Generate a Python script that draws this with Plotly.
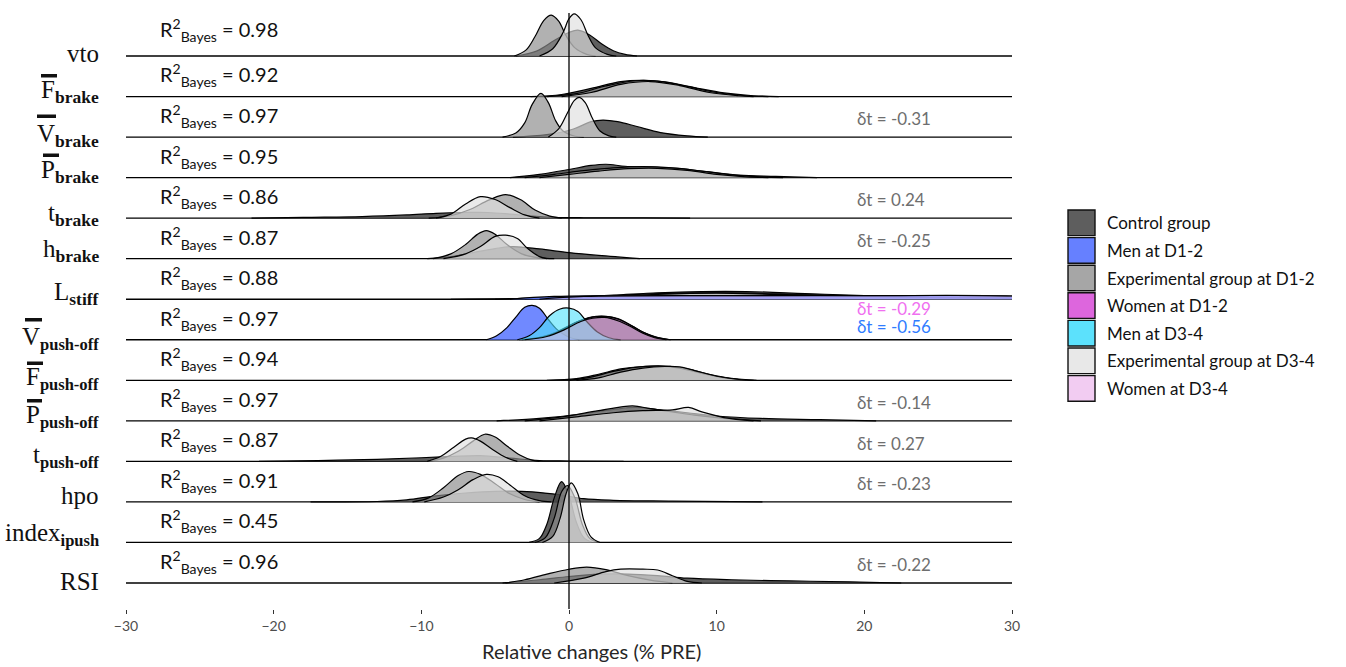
import plotly.graph_objects as go

# ---------------- data ----------------
ROW_NAMES = ["vto", "Fbrake", "Vbrake", "Pbrake", "tbrake", "hbrake", "Lstiff",
             "Vpush", "Fpush", "Ppush", "tpush", "hpo", "index", "RSI"]

SB = '<sub><b>%s</b></sub>'
SBP = '<sub><span style="font-size:16.5px"><b>%s</b></span></sub>'
ROW_LABELS = [
    "vto",
    "F" + SB % "brake",
    "V" + SB % "brake",
    "P" + SB % "brake",
    "t" + SB % "brake",
    "h" + SB % "brake",
    "L" + SB % "stiff",
    "V" + SBP % "push-off",
    "F" + SBP % "push-off",
    "P" + SBP % "push-off",
    "t" + SBP % "push-off",
    "hpo",
    "index" + SBP % "ipush",
    "RSI",
]
# rows whose main letter carries an overline (mean value)
OVERLINED = ["Fbrake", "Vbrake", "Pbrake", "Vpush", "Fpush", "Ppush"]

R2_VALUES = [0.98, 0.92, 0.97, 0.95, 0.86, 0.87, 0.88, 0.97, 0.94, 0.97, 0.87, 0.91, 0.45, 0.96]

DT_ROWS = ["Vbrake", "tbrake", "hbrake", "Ppush", "tpush", "hpo", "RSI"]
DT_VALUES = ["-0.31", "0.24", "-0.25", "-0.14", "0.27", "-0.23", "-0.22"]
DT_VPUSH_WOMEN = "-0.29"
DT_VPUSH_MEN = "-0.56"

GROUPS = ["Control group", "Men at D1-2", "Experimental group at D1-2", "Women at D1-2",
          "Men at D3-4", "Experimental group at D3-4", "Women at D3-4"]

X_TICKS = [-30, -20, -10, 0, 10, 20, 30]

# density knots: (relative change, ridge height) per group and variable
VTO_CTRL = [(-3.6, 0), (-2.2, 0.12), (-1.0, 0.38), (0.0, 0.58), (0.6, 0.64), (1.4, 0.52), (2.2, 0.3), (3.0, 0.13), (3.8, 0.04), (4.6, 0)]
VTO_D12 = [(-3.7, 0), (-2.9, 0.15), (-2.3, 0.48), (-1.7, 0.88), (-1.2, 1.01), (-0.7, 0.86), (-0.2, 0.5), (0.4, 0.2), (1.2, 0.04), (1.8, 0)]
VTO_D34 = [(-2.0, 0), (-1.1, 0.18), (-0.4, 0.58), (0.0, 0.92), (0.35, 1.04), (0.8, 0.9), (1.3, 0.5), (1.8, 0.2), (2.6, 0.04), (3.2, 0)]

FB_CTRL = [(-2.6, 0), (-0.5, 0.05), (1.5, 0.2), (3.5, 0.37), (5.0, 0.4), (6.5, 0.36), (8.5, 0.22), (10.5, 0.09), (12.5, 0.02), (14.2, 0)]
FB_D12 = [(-1.5, 0), (0.5, 0.07), (2.5, 0.26), (4.5, 0.39), (6.0, 0.38), (8.0, 0.25), (10.0, 0.1), (12.0, 0.02), (13.5, 0)]
FB_D34 = [(-0.5, 0), (1.5, 0.1), (3.5, 0.3), (5.5, 0.37), (7.5, 0.27), (9.5, 0.1), (11.5, 0.02), (12.5, 0)]

VB_CTRL = [(-3.8, 0), (-1.5, 0.06), (0.3, 0.2), (1.5, 0.38), (2.3, 0.42), (3.3, 0.38), (4.6, 0.26), (6.2, 0.11), (8.0, 0.03), (9.4, 0)]
VB_D12 = [(-4.5, 0), (-3.6, 0.1), (-3.0, 0.35), (-2.5, 0.8), (-1.9, 1.08), (-1.4, 0.85), (-0.9, 0.4), (-0.4, 0.15), (0.4, 0.02), (1.0, 0)]
VB_D34 = [(-1.4, 0), (-0.7, 0.2), (-0.1, 0.6), (0.35, 0.9), (0.7, 0.98), (1.1, 0.85), (1.6, 0.45), (2.1, 0.15), (2.7, 0.03), (3.2, 0)]

PB_CTRL = [(-4.0, 0), (-2.0, 0.08), (0.0, 0.2), (1.5, 0.3), (2.5, 0.33), (3.8, 0.28), (5.5, 0.26), (7.5, 0.22), (9.5, 0.14), (11.5, 0.06), (14.0, 0.03), (16.8, 0)]
PB_D12 = [(-3.0, 0), (-1.0, 0.08), (1.0, 0.17), (3.0, 0.24), (5.0, 0.27), (7.0, 0.24), (9.0, 0.16), (11.0, 0.07), (13.0, 0.02), (14.5, 0)]
PB_D34 = [(-2.0, 0), (0.0, 0.08), (2.0, 0.16), (4.0, 0.22), (6.0, 0.23), (8.0, 0.18), (10.0, 0.08), (12.0, 0.02), (13.5, 0)]

TB_CTRL = [(-21.5, 0), (-18, 0.02), (-14, 0.04), (-11, 0.08), (-9, 0.12), (-7, 0.14), (-5.5, 0.14), (-4, 0.1), (-2.5, 0.05), (-1, 0.02), (1, 0.01), (5, 0.01), (8.2, 0)]
TB_D12 = [(-9.5, 0), (-8.0, 0.06), (-6.8, 0.2), (-5.4, 0.45), (-4.3, 0.58), (-3.3, 0.46), (-2.3, 0.2), (-1.3, 0.05), (-0.5, 0)]
TB_D34 = [(-9.0, 0), (-8.0, 0.1), (-7.0, 0.35), (-6.0, 0.53), (-5.0, 0.46), (-4.0, 0.26), (-3.0, 0.08), (-2.0, 0)]

HB_CTRL = [(-9.6, 0), (-8.0, 0.05), (-6.5, 0.15), (-5.0, 0.25), (-3.8, 0.3), (-2.0, 0.24), (0.0, 0.15), (2.0, 0.08), (4.8, 0)]
HB_D12 = [(-9.2, 0), (-8.0, 0.12), (-7.0, 0.35), (-6.2, 0.6), (-5.6, 0.69), (-5.0, 0.6), (-4.2, 0.35), (-3.2, 0.12), (-2.0, 0.02), (-1.0, 0)]
HB_D34 = [(-8.5, 0), (-7.0, 0.12), (-6.0, 0.3), (-5.0, 0.55), (-4.3, 0.58), (-3.5, 0.5), (-2.8, 0.25), (-2.0, 0.05), (-1.5, 0)]

LS_CTRL = [(-8, 0), (-3, 0.02), (0, 0.05), (3, 0.1), (6, 0.16), (9, 0.19), (12, 0.19), (16, 0.14), (20, 0.09), (25, 0.05), (30, 0.03), (34, 0)]
LS_D12 = [(-5, 0), (0, 0.04), (4, 0.11), (8, 0.15), (12, 0.15), (17, 0.1), (22, 0.06), (28, 0.03), (34, 0)]
LS_D34 = [(-3, 0), (2, 0.05), (6, 0.12), (10, 0.15), (14, 0.12), (19, 0.08), (25, 0.04), (34, 0)]
LS_MEN12 = [(-4, 0), (-1, 0.07), (10, 0.09), (20, 0.09), (30, 0.08), (34, 0)]
LS_WOM34 = [(-2, 0), (1, 0.07), (12, 0.09), (22, 0.09), (30, 0.08), (34, 0)]

VP_CTRL = [(-3.4, 0), (-2.0, 0.06), (-0.8, 0.2), (0.4, 0.42), (1.5, 0.56), (2.5, 0.58), (3.3, 0.52), (4.2, 0.36), (5.0, 0.19), (5.8, 0.08), (6.8, 0)]
VP_MEN12 = [(-5.6, 0), (-4.9, 0.1), (-4.2, 0.3), (-3.6, 0.56), (-3.0, 0.8), (-2.5, 0.85), (-2.0, 0.78), (-1.4, 0.5), (-0.8, 0.25), (-0.1, 0.08), (0.7, 0)]
VP_WOM12 = [(-3.2, 0), (-1.8, 0.07), (-0.6, 0.22), (0.6, 0.45), (1.6, 0.56), (2.6, 0.57), (3.4, 0.5), (4.3, 0.33), (5.1, 0.17), (5.9, 0.06), (6.9, 0)]
VP_MEN34 = [(-3.5, 0), (-2.7, 0.1), (-2.0, 0.3), (-1.3, 0.6), (-0.6, 0.76), (0.0, 0.78), (0.6, 0.7), (1.2, 0.45), (1.9, 0.2), (2.7, 0.05), (3.5, 0)]
VP_WOM34 = [(-3.0, 0), (-1.5, 0.08), (-0.3, 0.25), (0.8, 0.45), (1.6, 0.53), (2.4, 0.55), (3.3, 0.47), (4.2, 0.32), (5.0, 0.16), (5.8, 0.05), (6.6, 0)]

FP_CTRL = [(-1.5, 0), (0.5, 0.04), (2.0, 0.15), (3.5, 0.28), (5.0, 0.34), (6.5, 0.35), (8.0, 0.28), (9.5, 0.15), (11.0, 0.05), (12.7, 0)]
FP_D12 = [(0.0, 0), (1.5, 0.08), (3.0, 0.22), (4.5, 0.32), (6.0, 0.35), (7.5, 0.3), (9.0, 0.17), (10.5, 0.06), (12.0, 0)]
FP_D34 = [(0.5, 0), (2.0, 0.06), (3.5, 0.2), (5.0, 0.3), (6.5, 0.34), (7.5, 0.33), (8.5, 0.24), (10.0, 0.1), (11.5, 0.02), (12.5, 0)]

PP_CTRL = [(-4.9, 0), (-2.0, 0.06), (0.5, 0.15), (3.0, 0.28), (4.5, 0.33), (6.0, 0.28), (8.0, 0.2), (10.0, 0.12), (13.0, 0.06), (17.0, 0.03), (20.8, 0)]
PP_D12 = [(-3.0, 0), (-0.5, 0.1), (2.0, 0.25), (4.3, 0.37), (5.5, 0.3), (7.0, 0.22), (8.5, 0.14), (10.5, 0.06), (13.0, 0)]
PP_D34 = [(-2.0, 0), (0.5, 0.1), (3.0, 0.2), (5.0, 0.25), (7.0, 0.27), (8.1, 0.33), (9.0, 0.22), (10.5, 0.08), (12.5, 0)]

TP_CTRL = [(-21, 0), (-17, 0.02), (-13, 0.05), (-10, 0.09), (-8, 0.12), (-6, 0.14), (-4, 0.08), (-2, 0.02), (0, 0.01), (3.7, 0)]
TP_D12 = [(-9.5, 0), (-8.5, 0.08), (-7.5, 0.25), (-6.5, 0.5), (-5.7, 0.67), (-5.0, 0.6), (-4.2, 0.38), (-3.3, 0.15), (-2.5, 0.03), (-2.0, 0)]
TP_D34 = [(-9.6, 0), (-8.7, 0.12), (-7.8, 0.35), (-7.0, 0.55), (-6.6, 0.58), (-6.0, 0.5), (-5.2, 0.3), (-4.3, 0.1), (-3.5, 0)]

HP_CTRL = [(-17.5, 0), (-13, 0.01), (-11, 0.05), (-9, 0.15), (-7, 0.22), (-5, 0.26), (-2.5, 0.25), (-0.5, 0.17), (1, 0.08), (3, 0.04), (7, 0.02), (13.1, 0)]
HP_D12 = [(-10.6, 0), (-9.5, 0.1), (-8.5, 0.35), (-7.5, 0.65), (-6.8, 0.75), (-6.0, 0.68), (-5.0, 0.45), (-4.0, 0.2), (-3.0, 0.06), (-2.0, 0)]
HP_D34 = [(-9.8, 0), (-8.5, 0.12), (-7.5, 0.3), (-6.5, 0.55), (-5.6, 0.68), (-4.8, 0.62), (-4.0, 0.42), (-3.0, 0.15), (-2.0, 0.03), (-1.2, 0)]

IX_CTRL = [(-2.7, 0), (-2.0, 0.1), (-1.5, 0.45), (-1.0, 1.1), (-0.5, 1.5), (0.0, 1.15), (0.5, 0.5), (1.0, 0.12), (1.6, 0)]
IX_D12 = [(-2.3, 0), (-1.6, 0.12), (-1.0, 0.6), (-0.5, 1.25), (-0.1, 1.4), (0.4, 1.1), (0.9, 0.45), (1.4, 0.1), (2.0, 0)]
IX_D34 = [(-1.8, 0), (-1.1, 0.15), (-0.6, 0.6), (-0.2, 1.2), (0.15, 1.47), (0.6, 1.2), (1.0, 0.55), (1.5, 0.13), (2.1, 0)]

RS_CTRL = [(-4.5, 0), (-2.0, 0.08), (0.0, 0.16), (2.0, 0.22), (4.0, 0.22), (6.0, 0.18), (8.0, 0.12), (11.0, 0.08), (15.0, 0.05), (19.0, 0.03), (22.5, 0)]
RS_D12 = [(-4.3, 0), (-3.0, 0.08), (-1.5, 0.22), (0.0, 0.34), (1.2, 0.39), (2.5, 0.33), (4.0, 0.18), (5.5, 0.07), (7.0, 0)]
RS_D34 = [(-1.0, 0), (1.0, 0.12), (2.5, 0.28), (3.5, 0.34), (5.0, 0.34), (6.0, 0.32), (7.0, 0.18), (8.0, 0.04), (9.0, 0)]

# table built from the named lists: variable -> list of (group, knots) in drawing order
CURVES = {
    "vto": [("Control group", VTO_CTRL), ("Experimental group at D1-2", VTO_D12), ("Experimental group at D3-4", VTO_D34)],
    "Fbrake": [("Control group", FB_CTRL), ("Experimental group at D1-2", FB_D12), ("Experimental group at D3-4", FB_D34)],
    "Vbrake": [("Control group", VB_CTRL), ("Experimental group at D1-2", VB_D12), ("Experimental group at D3-4", VB_D34)],
    "Pbrake": [("Control group", PB_CTRL), ("Experimental group at D1-2", PB_D12), ("Experimental group at D3-4", PB_D34)],
    "tbrake": [("Control group", TB_CTRL), ("Experimental group at D1-2", TB_D12), ("Experimental group at D3-4", TB_D34)],
    "hbrake": [("Control group", HB_CTRL), ("Experimental group at D1-2", HB_D12), ("Experimental group at D3-4", HB_D34)],
    "Lstiff": [("Control group", LS_CTRL), ("Experimental group at D1-2", LS_D12), ("Experimental group at D3-4", LS_D34),
               ("Men at D1-2", LS_MEN12), ("Women at D3-4", LS_WOM34)],
    "Vpush": [("Control group", VP_CTRL), ("Men at D1-2", VP_MEN12), ("Women at D1-2", VP_WOM12),
              ("Men at D3-4", VP_MEN34), ("Women at D3-4", VP_WOM34)],
    "Fpush": [("Control group", FP_CTRL), ("Experimental group at D1-2", FP_D12), ("Experimental group at D3-4", FP_D34)],
    "Ppush": [("Control group", PP_CTRL), ("Experimental group at D1-2", PP_D12), ("Experimental group at D3-4", PP_D34)],
    "tpush": [("Control group", TP_CTRL), ("Experimental group at D1-2", TP_D12), ("Experimental group at D3-4", TP_D34)],
    "hpo": [("Control group", HP_CTRL), ("Experimental group at D1-2", HP_D12), ("Experimental group at D3-4", HP_D34)],
    "index": [("Control group", IX_CTRL), ("Experimental group at D1-2", IX_D12), ("Experimental group at D3-4", IX_D34)],
    "RSI": [("Control group", RS_CTRL), ("Experimental group at D1-2", RS_D12), ("Experimental group at D3-4", RS_D34)],
}

# ---------------- styles & layout constants ----------------
FILL = {
    "Control group": "rgba(72,72,72,0.88)",
    "Men at D1-2": "rgba(96,124,255,0.9)",
    "Experimental group at D1-2": "rgba(140,140,140,0.68)",
    "Women at D1-2": "rgba(190,100,190,0.5)",
    "Men at D3-4": "rgba(80,224,250,0.62)",
    "Experimental group at D3-4": "rgba(224,224,224,0.68)",
    "Women at D3-4": "rgba(232,196,232,0.45)",
}
KEY = {
    "Control group": "#5e5e5e",
    "Men at D1-2": "#6680ff",
    "Experimental group at D1-2": "#a6a6a6",
    "Women at D1-2": "#dd66dd",
    "Men at D3-4": "#5ce1fc",
    "Experimental group at D3-4": "#e8e8e8",
    "Women at D3-4": "#f2ccf2",
}
# vertical nudges of the variable labels (row units)
LABEL_OFF = [0.06, 0.13, 0.035, 0.15, 0.08, 0.2, 0.13, 0.03, 0.035, 0.105, 0.13, 0.15, 0.2, 0.045]
# overline bars (page pixels: x0, x1, y0, y1)
BARS = {"Fbrake": (41, 57, 74, 77.5), "Vbrake": (37, 56, 114.5, 118), "Pbrake": (43, 59, 153.5, 157),
        "Vpush": (25, 42, 318, 321.5), "Fpush": (27, 43, 361.5, 365), "Ppush": (27, 42, 399, 402.5)}

PX0, PX1 = 126.0, 1012.0      # plot area in page pixels
PY0, PY1 = 13.0, 609.0
ROW_PX = 40.54                # pixels per ridge row
BASE_TOP_PY = 56.0            # baseline of top row (page px)
BASE_BOT_PY = 583.0


def px2paper_x(px):
    return (px - PX0) / (PX1 - PX0)


def py2paper_y(py):
    return (PY1 - py) / (PY1 - PY0)


N = len(ROW_NAMES)
SANS = "Lato"
SERIF = "Liberation Serif"

fig = go.Figure()

for i, name in enumerate(ROW_NAMES):
    base = N - 1 - i
    fig.add_trace(go.Scatter(x=[X_TICKS[0], X_TICKS[-1]], y=[base, base], mode="lines",
                             line=dict(color="black", width=1.3), hoverinfo="skip", showlegend=False))
    for grp, knots in CURVES[name]:
        xs = [k[0] for k in knots]
        ys = [base + k[1] for k in knots]
        fig.add_trace(go.Scatter(x=[xs[0], xs[-1]], y=[base, base], mode="lines",
                                 line=dict(width=0, color="rgba(0,0,0,0)"), hoverinfo="skip", showlegend=False))
        fig.add_trace(go.Scatter(x=xs, y=ys, mode="lines", fill="tonexty", fillcolor=FILL[grp],
                                 line=dict(color="black", width=1.2, shape="spline", smoothing=1.0),
                                 name=grp, hoverinfo="skip", showlegend=False))

annotations = []
shapes = [dict(type="line", xref="x", yref="paper", x0=0, x1=0, y0=0, y1=1,
               line=dict(color="black", width=1.3), layer="above")]

for i, lab in enumerate(ROW_LABELS):
    base = N - 1 - i
    annotations.append(dict(x=px2paper_x(101), xref="paper", y=base + LABEL_OFF[i], yref="y", text=lab,
                            showarrow=False, xanchor="right", yanchor="middle",
                            font=dict(family=SERIF, size=25, color="#111111")))
for name in OVERLINED:
    x0, x1, y0, y1 = BARS[name]
    shapes.append(dict(type="rect", xref="paper", yref="paper",
                       x0=px2paper_x(x0), x1=px2paper_x(x1), y0=py2paper_y(y1), y1=py2paper_y(y0),
                       fillcolor="#111111", line=dict(width=0)))

for i, r2 in enumerate(R2_VALUES):
    base = N - 1 - i
    off = 0.64 if i == 0 else 0.52
    annotations.append(dict(x=-27.8, y=base + off, xref="x", yref="y",
                            text="R<sup>2</sup><sub>Bayes</sub> = %.2f" % r2, showarrow=False,
                            xanchor="left", yanchor="middle",
                            font=dict(family=SANS, size=20, color="#111111")))

for name, dt in zip(DT_ROWS, DT_VALUES):
    base = N - 1 - ROW_NAMES.index(name)
    annotations.append(dict(x=19.4, y=base + 0.45, xref="x", yref="y", text="δt = " + dt,
                            showarrow=False, xanchor="left", yanchor="middle",
                            font=dict(family=SANS, size=17, color="#6e6e6e")))
vp = N - 1 - ROW_NAMES.index("Vpush")
annotations.append(dict(x=19.4, y=vp + 0.76, xref="x", yref="y", text="δt = " + DT_VPUSH_WOMEN,
                        showarrow=False, xanchor="left", yanchor="middle",
                        font=dict(family=SANS, size=17, color="#f070f0")))
annotations.append(dict(x=19.4, y=vp + 0.32, xref="x", yref="y", text="δt = " + DT_VPUSH_MEN,
                        showarrow=False, xanchor="left", yanchor="middle",
                        font=dict(family=SANS, size=17, color="#2f7cff")))

annotations.append(dict(x=px2paper_x(591), y=py2paper_y(651), xref="paper", yref="paper",
                        text="Relative changes (% PRE)", showarrow=False, xanchor="center", yanchor="middle",
                        font=dict(family=SANS, size=20, color="#262626")))

key_top = 209.0
key_h = 27.6
for j, grp in enumerate(GROUPS):
    y0 = key_top + j * key_h
    shapes.append(dict(type="rect", xref="paper", yref="paper",
                       x0=px2paper_x(1068), x1=px2paper_x(1095),
                       y0=py2paper_y(y0 + key_h - 1), y1=py2paper_y(y0 + 1),
                       fillcolor=KEY[grp], line=dict(color="#111111", width=1.4)))
    annotations.append(dict(x=px2paper_x(1105), y=py2paper_y(y0 + key_h / 2),
                            xref="paper", yref="paper", text=grp, showarrow=False,
                            xanchor="left", yanchor="middle",
                            font=dict(family=SANS, size=17, color="#111111")))

W, H = 1346, 667
y_lo = -(PY1 - BASE_BOT_PY) / ROW_PX
y_hi = (N - 1) + (BASE_TOP_PY - PY0) / ROW_PX

fig.update_layout(
    width=W, height=H,
    margin=dict(l=PX0, r=W - PX1, t=PY0, b=H - PY1, autoexpand=False),
    paper_bgcolor="white", plot_bgcolor="white",
    showlegend=False,
    xaxis=dict(range=[X_TICKS[0], X_TICKS[-1]], tickvals=X_TICKS,
               ticktext=[("−%d" % -v) if v < 0 else str(v) for v in X_TICKS],
               showgrid=False, zeroline=False, showline=False, ticks="outside", ticklen=4,
               tickcolor="#333333", tickfont=dict(family=SANS, size=14, color="#4d4d4d"), automargin=False),
    yaxis=dict(range=[y_lo, y_hi], showgrid=False, zeroline=False, showline=False,
               showticklabels=False, ticks="", automargin=False),
    annotations=annotations,
    shapes=shapes,
)

# remove the browser's default 8px page margin so the figure fills the window exactly
fig.write_html("out.html", config={"displayModeBar": False},
               post_script="document.body.style.margin='0';document.body.style.overflow='hidden';")
